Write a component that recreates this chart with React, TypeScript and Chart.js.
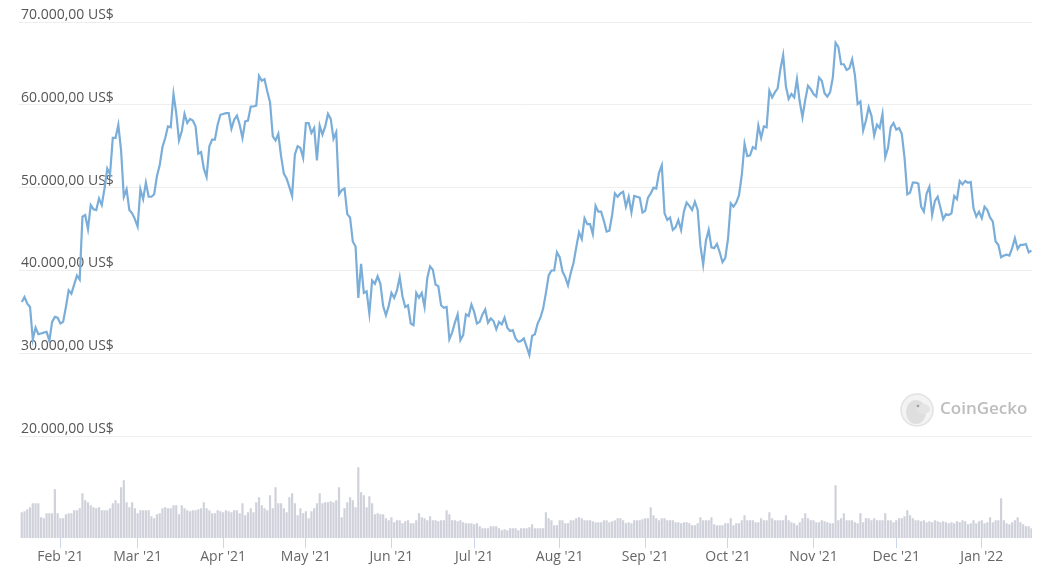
import React, { useEffect, useRef } from 'react';
import { Chart, registerables } from 'chart.js';

Chart.register(...registerables);

// Daily snapshots, index 0 = 18 Jan 2021
const startDate = '2021-01-18';

const prices = [
  36200, 36800, 36000, 35600, 31700, 33100, 32300, 32400, 32500, 32600, 31500, 33800, 34400, 34300,
  33600, 33800, 35600, 37600, 37200, 38300, 39400, 38900, 46500, 46700, 45000, 47900, 47400, 47300,
  48700, 47900, 49900, 52300, 51600, 56000, 56000, 57600, 54500, 48900, 49800, 47300, 46900, 46200,
  45300, 49800, 48600, 50600, 48900, 48900, 49200, 51400, 52700, 54900, 56000, 57400, 57300, 61300,
  59000, 55700, 56800, 58900, 57800, 58300, 58100, 57400, 54100, 54300, 52300, 51300, 55000, 55800,
  55800, 57600, 58800, 58900, 59000, 59000, 57100, 58200, 58700, 57600, 56000, 58000, 58100, 59800,
  59800, 59900, 63500, 62900, 63100, 61600, 60300, 56200, 55700, 56500, 53800, 51700, 51100, 50100,
  49000, 54000, 55000, 54800, 53600, 57800, 57800, 56600, 57200, 53300, 57500, 56400, 57400, 58900,
  58300, 55900, 56700, 49200, 49700, 49900, 46800, 46400, 43500, 42900, 36700, 40800, 37300, 37500,
  34800, 38800, 38400, 39300, 38400, 35700, 34600, 35700, 37300, 36700, 37600, 39200, 36900, 35600,
  35800, 33600, 33400, 37300, 36700, 37300, 35600, 39100, 40500, 40100, 38300, 38100, 35800, 35500,
  35600, 31700, 32500, 33700, 34700, 31600, 32200, 34700, 34500, 35900, 35000, 33600, 33800, 34700,
  35300, 33700, 34200, 33900, 32900, 33800, 33500, 34300, 33100, 32700, 32800, 31800, 31400, 31500,
  31800, 30800, 29800, 32100, 32300, 33600, 34300, 35400, 37300, 39400, 40000, 40000, 42200, 41600,
  39900, 39200, 38200, 39700, 40900, 42800, 44600, 43800, 46300, 45600, 45600, 44400, 47800, 47100,
  47100, 46000, 44700, 44800, 46700, 49300, 48900, 49300, 49500, 47700, 48900, 47000, 49000, 48900,
  48800, 47000, 47200, 48800, 49300, 50000, 49900, 51800, 52700, 46900, 46100, 46400, 44900, 45200,
  46100, 44900, 47100, 48200, 47800, 47300, 48300, 47300, 43000, 40700, 43600, 44900, 42800, 42700,
  43200, 42200, 41000, 41500, 43800, 48100, 47700, 48200, 49100, 51500, 55300, 53800, 53900, 54900,
  54700, 57500, 56000, 57400, 57300, 61700, 60900, 61500, 62000, 64300, 66000, 62200, 60700, 61300,
  60900, 63100, 60400, 58500, 60600, 62300, 61900, 61300, 61000, 63300, 62900, 61400, 61000, 61500,
  63300, 67500, 67000, 64900, 64900, 64200, 64400, 65500, 63600, 60100, 60400, 56900, 58100, 59700,
  58700, 56300, 57600, 57200, 58900, 53700, 54800, 57300, 57800, 57000, 57200, 56500, 53600, 49200,
  49400, 50600, 50600, 50500, 47700, 47100, 49300, 50100, 46700, 48400, 48900, 47600, 46200, 46800,
  46700, 46900, 49000, 48600, 50800, 50400, 50800, 50600, 50700, 47500, 46500, 47100, 46300, 47700,
  47300, 46400, 45900, 43500, 43100, 41600, 41800, 41900, 41800, 42700, 43900, 42600, 43100, 43100,
  43200, 42200, 42400,
];

// Total volume, billions of US$
const volumes = [
  52, 54, 58, 62, 70, 70, 70, 42, 40, 50, 50, 50, 98, 50,
  40, 40, 48, 50, 50, 56, 56, 60, 90, 76, 72, 66, 62, 60,
  62, 56, 56, 56, 60, 70, 76, 70, 102, 116, 72, 62, 72, 60,
  50, 56, 56, 56, 56, 44, 40, 48, 50, 60, 62, 60, 60, 66,
  66, 48, 66, 60, 56, 54, 56, 56, 58, 60, 72, 60, 56, 50,
  50, 56, 54, 52, 56, 54, 52, 56, 56, 50, 70, 46, 52, 60,
  52, 72, 82, 66, 60, 56, 86, 60, 102, 70, 70, 60, 52, 82,
  90, 70, 46, 60, 50, 54, 40, 54, 60, 70, 90, 70, 72, 72,
  74, 72, 76, 102, 42, 60, 72, 82, 76, 62, 142, 92, 86, 62,
  84, 70, 48, 50, 48, 48, 40, 36, 42, 32, 36, 36, 30, 34,
  36, 30, 30, 36, 50, 42, 40, 36, 44, 36, 36, 34, 36, 36,
  56, 48, 36, 36, 34, 36, 32, 30, 30, 30, 28, 30, 24, 20,
  20, 20, 24, 24, 24, 20, 16, 18, 16, 20, 20, 20, 16, 20,
  20, 20, 22, 28, 20, 20, 20, 20, 52, 40, 36, 26, 26, 36,
  36, 30, 30, 36, 36, 40, 42, 40, 36, 36, 36, 34, 32, 32,
  32, 36, 36, 32, 34, 36, 40, 40, 36, 30, 32, 30, 36, 36,
  36, 38, 40, 40, 62, 46, 40, 36, 40, 40, 36, 36, 36, 32,
  32, 30, 32, 32, 30, 26, 26, 30, 42, 36, 36, 36, 42, 28,
  26, 26, 26, 30, 30, 40, 26, 30, 30, 36, 46, 36, 36, 36,
  32, 32, 40, 36, 36, 52, 40, 36, 36, 36, 36, 46, 36, 32,
  30, 26, 32, 40, 50, 40, 36, 36, 32, 32, 36, 34, 32, 30,
  30, 106, 36, 40, 50, 36, 36, 36, 32, 30, 50, 32, 40, 40,
  36, 40, 36, 36, 36, 50, 36, 36, 32, 36, 40, 40, 44, 56,
  46, 40, 36, 36, 34, 36, 32, 34, 32, 36, 34, 32, 34, 32,
  30, 32, 30, 34, 32, 36, 34, 28, 30, 36, 30, 34, 36, 30,
  32, 42, 32, 36, 36, 80, 36, 30, 28, 32, 36, 42, 32, 28,
  24, 24, 20,
];

// Month starts, as day index from startDate
const monthTickDays = [14, 42, 73, 103, 134, 164, 195, 226, 256, 287, 317, 348];
const monthLabels = [
  "Feb '21", "Mar '21", "Apr '21", "May '21", "Jun '21", "Jul '21",
  "Aug '21", "Sep '21", "Oct '21", "Nov '21", "Dec '21", "Jan '22",
];

const priceTicks = [20000, 30000, 40000, 50000, 60000, 70000];
const priceTickLabels = [
  '20.000,00 US$', '30.000,00 US$', '40.000,00 US$',
  '50.000,00 US$', '60.000,00 US$', '70.000,00 US$',
];

const watermark = {
  id: 'watermark',
  beforeDatasetsDraw(chart: any) {
    const ctx = chart.ctx;
    ctx.save();
    const cx = 917, cy = 410, r = 16;
    ctx.beginPath();
    ctx.arc(cx, cy, r, 0, Math.PI * 2);
    ctx.fillStyle = '#f3f3f3';
    ctx.fill();
    ctx.lineWidth = 1.5;
    ctx.strokeStyle = '#e2e2e2';
    ctx.stroke();
    // gecko head
    ctx.beginPath();
    ctx.ellipse(cx - 1, cy + 2, 10, 12, 0, 0, Math.PI * 2);
    ctx.fillStyle = '#dedede';
    ctx.fill();
    ctx.beginPath();
    ctx.ellipse(cx + 6, cy - 1, 7, 5, 0, 0, Math.PI * 2);
    ctx.fillStyle = '#e4e4e4';
    ctx.fill();
    ctx.beginPath();
    ctx.arc(cx + 1, cy - 4, 1.3, 0, Math.PI * 2);
    ctx.fillStyle = '#9a9a9a';
    ctx.fill();
    ctx.font = '600 17px "Open Sans"';
    ctx.fillStyle = '#bdbdbd';
    ctx.textBaseline = 'middle';
    ctx.textAlign = 'left';
    ctx.fillText('CoinGecko', 940, 409);
    ctx.restore();
  },
};

export default function App() {
  const ref = useRef<HTMLCanvasElement>(null);

  useEffect(() => {
    if (!ref.current) return;
    Chart.defaults.font.family = '"Open Sans", sans-serif';
    const chart = new Chart(ref.current, {
      type: 'line',
      data: {
        datasets: [
          {
            type: 'line',
            label: 'Price',
            data: prices.map((p, i) => ({ x: i, y: p })),
            yAxisID: 'y',
            borderColor: '#7aaed9',
            borderWidth: 2.2,
            pointRadius: 0,
            tension: 0,
            order: 0,
          } as any,
          {
            type: 'bar',
            label: 'Volume',
            data: volumes.map((v, i) => ({ x: i, y: v })),
            yAxisID: 'yv',
            backgroundColor: '#d0d2db',
            barPercentage: 1,
            categoryPercentage: 0.8,
            order: 1,
          } as any,
        ],
      },
      options: {
        animation: false,
        responsive: false,
        maintainAspectRatio: false,
        layout: { padding: { top: 22, left: 15, right: 12, bottom: 7 } },
        plugins: {
          legend: { display: false },
          tooltip: { enabled: false },
        },
        scales: {
          x: {
            type: 'linear',
            min: -1.0,
            max: 366.2,
            offset: false,
            afterBuildTicks: (s: any) => {
              s.ticks = monthTickDays.map((v) => ({ value: v }));
            },
            ticks: {
              autoSkip: false,
              maxRotation: 0,
              padding: 0,
              color: '#666666',
              font: { size: 14 },
              callback: (_v: any, i: number) => monthLabels[i],
            },
            grid: {
              drawOnChartArea: false,
              drawTicks: true,
              tickLength: 10,
              color: '#ccd6eb',
              offset: false,
            },
            border: { display: false },
          },
          y: {
            type: 'linear',
            position: 'left',
            min: 7680,
            max: 70000,
            afterBuildTicks: (s: any) => {
              s.ticks = priceTicks.map((v) => ({ value: v }));
            },
            ticks: {
              mirror: true,
              padding: 2,
              labelOffset: -7,
              color: '#555555',
              font: { size: 14 },
              callback: (_v: any, i: number) => priceTickLabels[i],
            },
            grid: { color: '#eeeeee', drawTicks: false },
            border: { display: false },
          },
          yv: {
            type: 'linear',
            display: false,
            min: 0,
            max: 1032,
          },
        },
      } as any,
      plugins: [watermark],
    });
    return () => chart.destroy();
  }, []);

  return (
    <div style={{ position: 'absolute', left: 0, top: 0, width: 1044, height: 572, background: '#fff' }}>
      <canvas ref={ref} width={1044} height={572} />
    </div>
  );
}
